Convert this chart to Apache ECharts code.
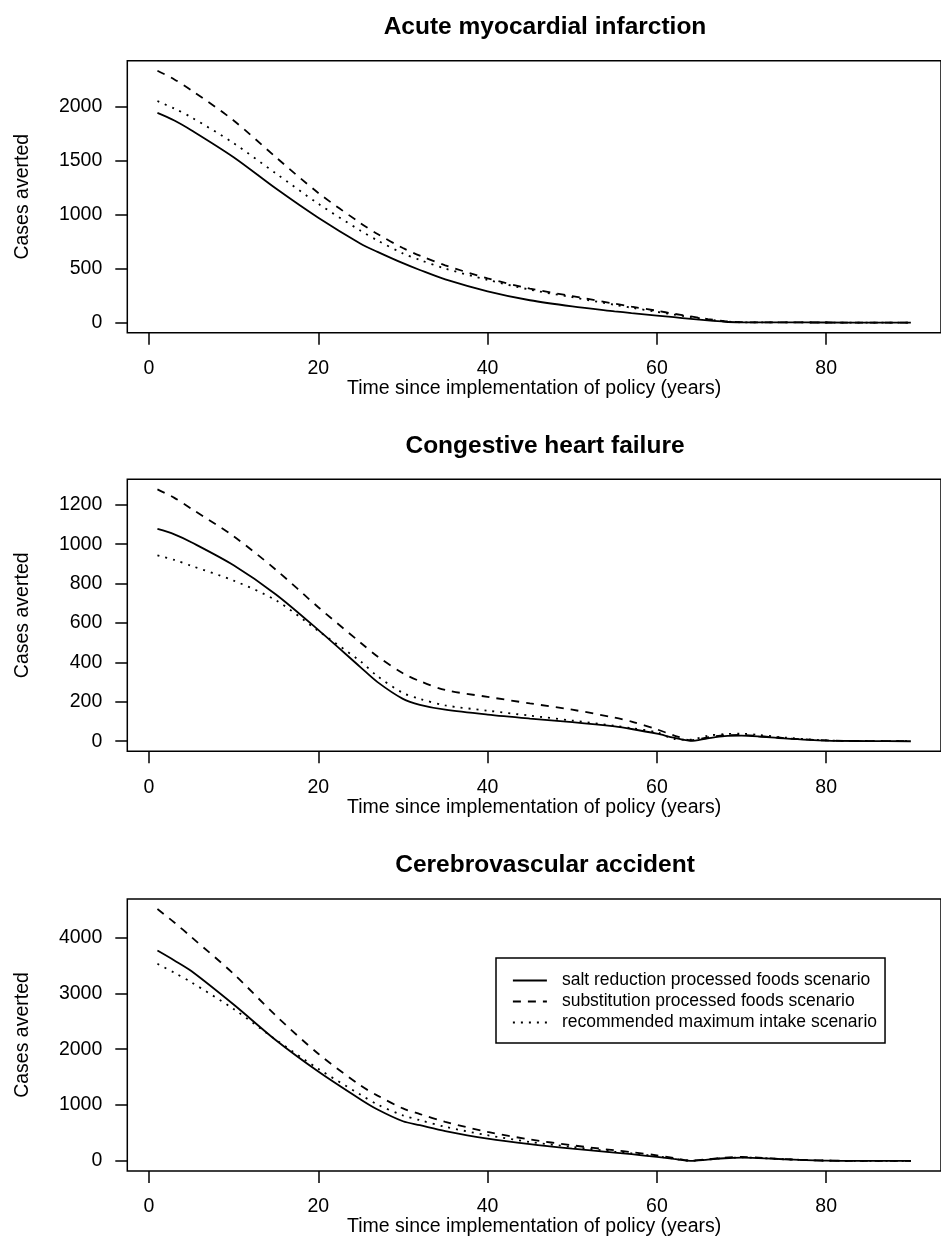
<!DOCTYPE html>
<html>
<head>
<meta charset="utf-8">
<script src="https://cdn.jsdelivr.net/npm/echarts@6/dist/echarts.min.js"></script>
<style>
  html, body { margin: 0; padding: 0; background: #fff; }
  #chart { width: 941px; height: 1243px; }
</style>
</head>
<body>
<div id="chart"></div>
<script>
// years since policy
const years = [1, 3, 5, 10, 15, 20, 25, 27, 30, 32, 35, 40, 45, 50, 55, 57, 60, 62, 64, 66, 68, 70, 72, 75, 80, 85, 90]

// Acute myocardial infarction
const amiSalt  = [1940, 1870, 1780, 1530, 1240, 970, 730, 655, 550, 487, 400, 290, 207, 150, 105, 88, 65, 50, 35, 20, 8, 3, 2, 2, 1, 0, 0]
const amiSubst = [2330, 2250, 2150, 1870, 1530, 1200, 920, 820, 690, 620, 530, 410, 315, 245, 175, 148, 110, 82, 57, 33, 14, 4, 3, 2, 1, 0, 0]
const amiRec   = [2050, 1980, 1900, 1660, 1380, 1100, 850, 760, 640, 580, 500, 395, 305, 235, 165, 138, 100, 75, 52, 30, 12, 3, 2, 2, 1, 0, 0]

// Congestive heart failure
const chfSalt  = [1077, 1050, 1010, 893, 745, 565, 375, 300, 215, 185, 160, 135, 115, 97, 75, 62, 38, 18, 2, 15, 26, 28, 24, 14, 3, 1, 0]
const chfSubst = [1278, 1235, 1180, 1040, 870, 680, 500, 430, 345, 305, 260, 225, 192, 160, 120, 100, 60, 30, 5, 20, 30, 32, 27, 16, 4, 1, 0]
const chfRec   = [943, 920, 890, 815, 715, 560, 405, 330, 245, 215, 182, 155, 130, 105, 78, 66, 45, 12, 8, 28, 36, 38, 32, 19, 4, 1, 0]

// Cerebrovascular accident
const cvaSalt  = [3767, 3590, 3400, 2800, 2160, 1600, 1100, 920, 710, 640, 535, 400, 300, 220, 150, 120, 72, 35, 2, 24, 48, 58, 50, 30, 6, 1, 0]
const cvaSubst = [4510, 4270, 4010, 3350, 2600, 1920, 1350, 1170, 940, 840, 700, 520, 385, 280, 190, 158, 100, 55, 6, 30, 60, 72, 60, 32, 6, 1, 0]
const cvaRec   = [3530, 3370, 3200, 2720, 2170, 1650, 1185, 1010, 815, 730, 610, 460, 340, 250, 167, 135, 83, 40, 2, 24, 52, 62, 54, 30, 6, 1, 0]

const titles = ['Acute myocardial infarction', 'Congestive heart failure', 'Cerebrovascular accident']
const seriesNames = [
    'salt reduction processed foods scenario',
    'substitution processed foods scenario',
    'recommended maximum intake scenario'
]
const xTicks = [0, 20, 40, 60, 80]
const yTicks = [
    [0, 500, 1000, 1500, 2000],
    [0, 200, 400, 600, 800, 1000, 1200],
    [0, 1000, 2000, 3000, 4000]
]
const panelData = [
    [amiSalt, amiSubst, amiRec],
    [chfSalt, chfSubst, chfRec],
    [cvaSalt, cvaSubst, cvaRec]
]

const font = "'Liberation Sans', Arial, sans-serif"
const lineTypes = ['solid', [8, 7], [2, 6]]
const gridTops = [60.7, 479.3, 899]
const gridHeight = 272

// R style axis range: data range padded by 4% each side
const padRange = (arrs) => {
    const all = [].concat(...arrs)
    const lo = Math.min(...all), hi = Math.max(...all)
    const ext = (hi - lo) * 0.04
    return [lo - ext, hi + ext]
}
const xRange = padRange([years])

const grid = [], xAxis = [], yAxis = [], series = [], title = []

panelData.forEach((sets, i) => {
    grid.push({
        left: 127.3,
        top: gridTops[i],
        width: 825.7,
        height: gridHeight,
        show: true,
        borderColor: '#000',
        borderWidth: 1.5,
        backgroundColor: 'transparent'
    })
    xAxis.push({
        type: 'value',
        gridIndex: i,
        min: xRange[0],
        max: xRange[1],
        name: 'Time since implementation of policy (years)',
        nameLocation: 'middle',
        nameGap: 46,
        nameMoveOverlap: false,
        nameTextStyle: { color: '#000', fontSize: 19.5, fontFamily: font },
        axisLine: { show: false, onZero: false },
        axisTick: {
            show: true,
            inside: false,
            length: 12,
            customValues: xTicks,
            lineStyle: { color: '#000', width: 1.5 }
        },
        axisLabel: {
            customValues: xTicks,
            margin: 26,
            color: '#000',
            fontSize: 19.5,
            fontFamily: font,
            formatter: v => String(v)
        },
        splitLine: { show: false }
    })
    const yr = padRange(sets)
    yAxis.push({
        type: 'value',
        gridIndex: i,
        min: yr[0],
        max: yr[1],
        name: 'Cases averted',
        nameLocation: 'middle',
        nameGap: 95,
        nameMoveOverlap: false,
        nameTextStyle: { color: '#000', fontSize: 19.5, fontFamily: font },
        axisLine: { show: false, onZero: false },
        axisTick: {
            show: true,
            inside: false,
            length: 12,
            customValues: yTicks[i],
            lineStyle: { color: '#000', width: 1.5 }
        },
        axisLabel: {
            customValues: yTicks[i],
            margin: 25,
            color: '#000',
            fontSize: 19.5,
            fontFamily: font,
            formatter: v => String(v)
        },
        splitLine: { show: false }
    })
    title.push({
        text: titles[i],
        left: 540,
        top: gridTops[i] - 51,
        textAlign: 'center',
        textStyle: { color: '#000', fontSize: 24.5, fontWeight: 'bold', fontFamily: font }
    })
    sets.forEach((vals, k) => {
        series.push({
            name: seriesNames[k],
            type: 'line',
            xAxisIndex: i,
            yAxisIndex: i,
            data: years.map((y, j) => [y, vals[j]]),
            symbol: 'none',
            showSymbol: false,
            smooth: 0.3,
            animation: false,
            lineStyle: { color: '#000', width: 1.8, type: lineTypes[k] },
            itemStyle: { color: '#000' }
        })
    })
})

const myChart = echarts.init(document.getElementById('chart'), null, { renderer: 'canvas' })
myChart.setOption({
    backgroundColor: '#fff',
    animation: false,
    title: title,
    grid: grid,
    xAxis: xAxis,
    yAxis: yAxis,
    legend: {
        data: seriesNames,
        orient: 'vertical',
        left: 496,
        top: 958,
        itemWidth: 34,
        itemHeight: 14,
        itemGap: 0,
        padding: [12, 8, 10, 16],
        borderColor: '#000',
        borderWidth: 1.5,
        selectedMode: false,
        itemStyle: { opacity: 0 },
        lineStyle: { width: 1.8 },
        textStyle: {
            color: '#000',
            fontSize: 17.5,
            fontFamily: font,
            lineHeight: 21,
            padding: [0, 0, 0, 10]
        }
    },
    series: series
})
</script>
</body>
</html>
